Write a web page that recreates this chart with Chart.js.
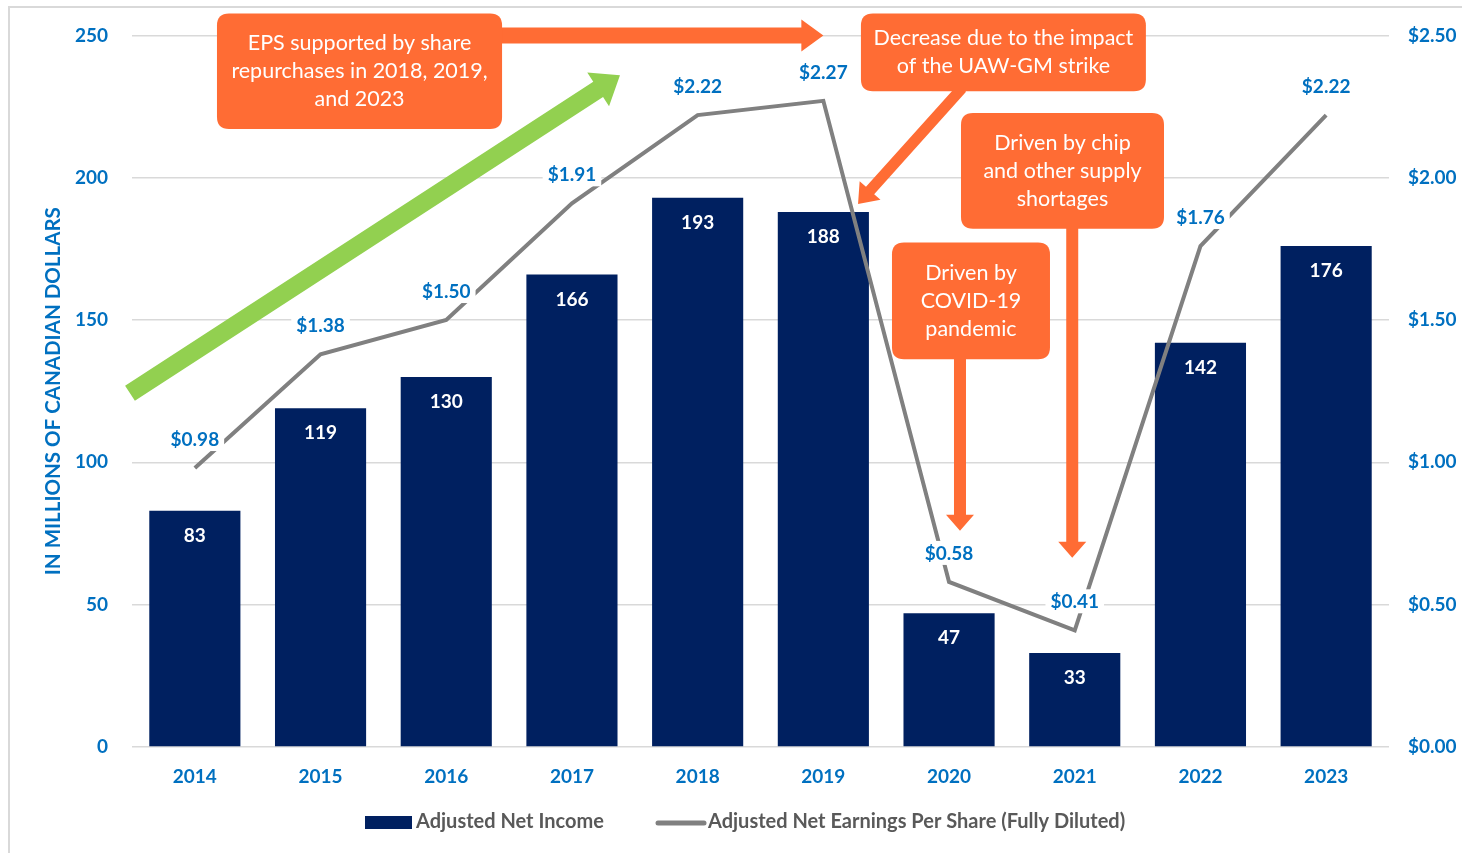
<!DOCTYPE html>
<html><head><meta charset="utf-8">
<script src="https://cdn.jsdelivr.net/npm/chart.js@4.4.0/dist/chart.umd.min.js"></script>
<style>html,body{margin:0;padding:0;background:#fff;overflow:hidden}</style>
</head><body>
<canvas id="c" width="1462" height="853"></canvas>
<script>
// ---------- data ----------
const years = ['2014','2015','2016','2017','2018','2019','2020','2021','2022','2023'];
const netIncome = [83,119,130,166,193,188,47,33,142,176];
const eps = [0.98,1.38,1.50,1.91,2.22,2.27,0.58,0.41,1.76,2.22];
const leftTickLabels = ['0','50','100','150','200','250'];
const rightTickLabels = ['$0.00','$0.50','$1.00','$1.50','$2.00','$2.50'];
const epsLabels = ['$0.98','$1.38','$1.50','$1.91','$2.22','$2.27','$0.58','$0.41','$1.76','$2.22'];

// ---------- styles ----------
const BLUE = '#0070C0', NAVY = '#002060', GRAY = '#808080', ORANGE = '#FF6C34', GREEN = '#92D050';
const FONT = 'Lato';

// callouts anchored in data space: [xIndexLeft, xIndexRight, valueTop, valueBottom]
const callouts = [
  {box:[0.176,2.444,257.7,217.1], lines:['EPS supported by share','repurchases in 2018, 2019,','and 2023']},
  {box:[5.299,7.566,257.7,230.4], lines:['Decrease due to the impact','of the UAW-GM strike']},
  {box:[6.095,7.71,222.7,182.1], lines:['Driven by chip','and other supply','shortages']},
  {box:[5.546,6.803,177.2,136.2], lines:['Driven by','COVID-19','pandemic']}
];
const arrows = [
  {from:[2.40,250], to:[5.0,250], w:16, hw:32, hl:22, color:ORANGE},
  {from:[-0.516,124.3], to:[3.382,236.0], w:18, hw:40, hl:26, color:GREEN},
  {from:[6.103,231.5], to:[5.276,190.8], w:11, hw:28, hl:18, color:ORANGE},
  {from:[6.98,183], to:[6.98,66.5], w:12, hw:28, hl:16, color:ORANGE},
  {from:[6.087,137], to:[6.087,76.0], w:12, hw:28, hl:16, color:ORANGE}
];

function toPx(chart, xi, v){
  const xs = chart.scales.x, ys = chart.scales.y;
  const x0 = xs.getPixelForValue(0), x1 = xs.getPixelForValue(1);
  return [x0 + xi*(x1-x0), ys.getPixelForValue(v)];
}
function roundRect(ctx,x,y,w,h,r){
  ctx.beginPath();
  ctx.moveTo(x+r,y);ctx.lineTo(x+w-r,y);ctx.quadraticCurveTo(x+w,y,x+w,y+r);
  ctx.lineTo(x+w,y+h-r);ctx.quadraticCurveTo(x+w,y+h,x+w-r,y+h);
  ctx.lineTo(x+r,y+h);ctx.quadraticCurveTo(x,y+h,x,y+h-r);
  ctx.lineTo(x,y+r);ctx.quadraticCurveTo(x,y,x+r,y);ctx.closePath();
}
function drawArrow(ctx,a,b,w,hw,hl,color){
  const dx=b[0]-a[0], dy=b[1]-a[1], L=Math.hypot(dx,dy);
  const ux=dx/L, uy=dy/L, nx=-uy, ny=ux;
  const hb=[b[0]-ux*hl, b[1]-uy*hl];
  ctx.beginPath();
  ctx.moveTo(a[0]+nx*w/2, a[1]+ny*w/2);
  ctx.lineTo(hb[0]+nx*w/2, hb[1]+ny*w/2);
  ctx.lineTo(hb[0]+nx*hw/2, hb[1]+ny*hw/2);
  ctx.lineTo(b[0], b[1]);
  ctx.lineTo(hb[0]-nx*hw/2, hb[1]-ny*hw/2);
  ctx.lineTo(hb[0]-nx*w/2, hb[1]-ny*w/2);
  ctx.lineTo(a[0]-nx*w/2, a[1]-ny*w/2);
  ctx.closePath();
  ctx.fillStyle=color; ctx.fill();
}

const extras = {
  id:'extras',
  beforeDraw(chart){
    const ctx=chart.ctx;
    ctx.save();
    ctx.fillStyle='#fff'; ctx.fillRect(0,0,chart.width,chart.height);
    ctx.strokeStyle='#D9D9D9'; ctx.lineWidth=2;
    ctx.strokeRect(9,7,chart.width+20,chart.height+20);
    ctx.restore();
  },
  afterDatasetsDraw(chart){
    const ctx=chart.ctx;
    ctx.save();
    // bar labels
    const barMeta = chart.getDatasetMeta(1);
    ctx.font = `bold 19px ${FONT}`; ctx.fillStyle='#fff';
    ctx.textAlign='center'; ctx.textBaseline='middle';
    barMeta.data.forEach((el,i)=>{ ctx.fillText(String(netIncome[i]), el.x, el.y+25); });
    // line labels
    const lineMeta = chart.getDatasetMeta(0);
    ctx.font = `bold 19px ${FONT}`;
    lineMeta.data.forEach((el,i)=>{
      const t=epsLabels[i], tw=ctx.measureText(t).width;
      const cy=el.y-29;
      ctx.fillStyle='#fff'; ctx.fillRect(el.x-tw/2-5, cy-12, tw+10, 24);
      ctx.fillStyle=BLUE; ctx.fillText(t, el.x, cy+1);
    });
    ctx.restore();
  },
  afterDraw(chart){
    const ctx=chart.ctx;
    ctx.save();
    arrows.forEach(ar=>{
      drawArrow(ctx, toPx(chart,ar.from[0],ar.from[1]), toPx(chart,ar.to[0],ar.to[1]), ar.w, ar.hw, ar.hl, ar.color);
    });
    callouts.forEach(c=>{
      const p1=toPx(chart,c.box[0],c.box[2]), p2=toPx(chart,c.box[1],c.box[3]);
      roundRect(ctx,p1[0],p1[1],p2[0]-p1[0],p2[1]-p1[1],12);
      ctx.fillStyle=ORANGE; ctx.fill();
      ctx.fillStyle='#fff'; ctx.font=`21.5px ${FONT}`;
      ctx.textAlign='center'; ctx.textBaseline='middle';
      const cx=(p1[0]+p2[0])/2, cy=(p1[1]+p2[1])/2, lh=28, n=c.lines.length;
      c.lines.forEach((l,i)=>ctx.fillText(l,cx,cy+(i-(n-1)/2)*lh));
    });
    // legend
    const ly=822;
    ctx.fillStyle=NAVY; ctx.fillRect(365,816,47,13);
    ctx.fillStyle='#595959'; ctx.font=`bold 20px ${FONT}`; ctx.textAlign='left'; ctx.textBaseline='middle';
    ctx.fillText(chart.data.datasets[1].label, 416, ly);
    ctx.strokeStyle=GRAY; ctx.lineWidth=5; ctx.lineCap='round';
    ctx.beginPath(); ctx.moveTo(658,823); ctx.lineTo(704,823); ctx.stroke();
    ctx.fillText(chart.data.datasets[0].label, 708, ly);
    ctx.restore();
  }
};

new Chart(document.getElementById('c'), {
  data:{
    labels: years,
    datasets:[
      {type:'line', label:'Adjusted Net Earnings Per Share (Fully Diluted)', data:eps, yAxisID:'y1',
       borderColor:GRAY, borderWidth:4, pointRadius:0, tension:0, order:0},
      {type:'bar', label:'Adjusted Net Income', data:netIncome, yAxisID:'y',
       backgroundColor:NAVY, barPercentage:0.725, categoryPercentage:1, order:1}
    ]
  },
  options:{
    responsive:false, animation:false, devicePixelRatio:1,
    layout:{padding:{top:33,left:0,right:0,bottom:0}},
    plugins:{legend:{display:false}, tooltip:{enabled:false}},
    scales:{
      x:{grid:{display:false}, border:{display:false},
         ticks:{color:BLUE, font:{family:FONT, weight:'bold', size:19}, padding:10},
         afterFit(s){ s.height=106; }},
      y:{position:'left', min:0, max:250,
         ticks:{stepSize:50, color:BLUE, font:{family:FONT, weight:'bold', size:19}, padding:24,
                callback:(v,i)=>leftTickLabels[i]},
         grid:{color:'#D9D9D9', lineWidth:1.5, drawTicks:false}, border:{display:false},
         title:{display:true, text:'IN MILLIONS OF CANADIAN DOLLARS', color:BLUE,
                font:{family:FONT, weight:'bold', size:20.5}, padding:{top:41, bottom:0}},
         afterFit(s){ s.width=132; }},
      y1:{position:'right', min:0, max:2.5,
         ticks:{stepSize:0.5, color:BLUE, font:{family:FONT, weight:'bold', size:19}, padding:19,
                callback:(v,i)=>rightTickLabels[i]},
         grid:{display:false, drawTicks:false}, border:{display:false},
         afterFit(s){ s.width=73; }}
    }
  },
  plugins:[extras]
});
</script>
</body></html>
